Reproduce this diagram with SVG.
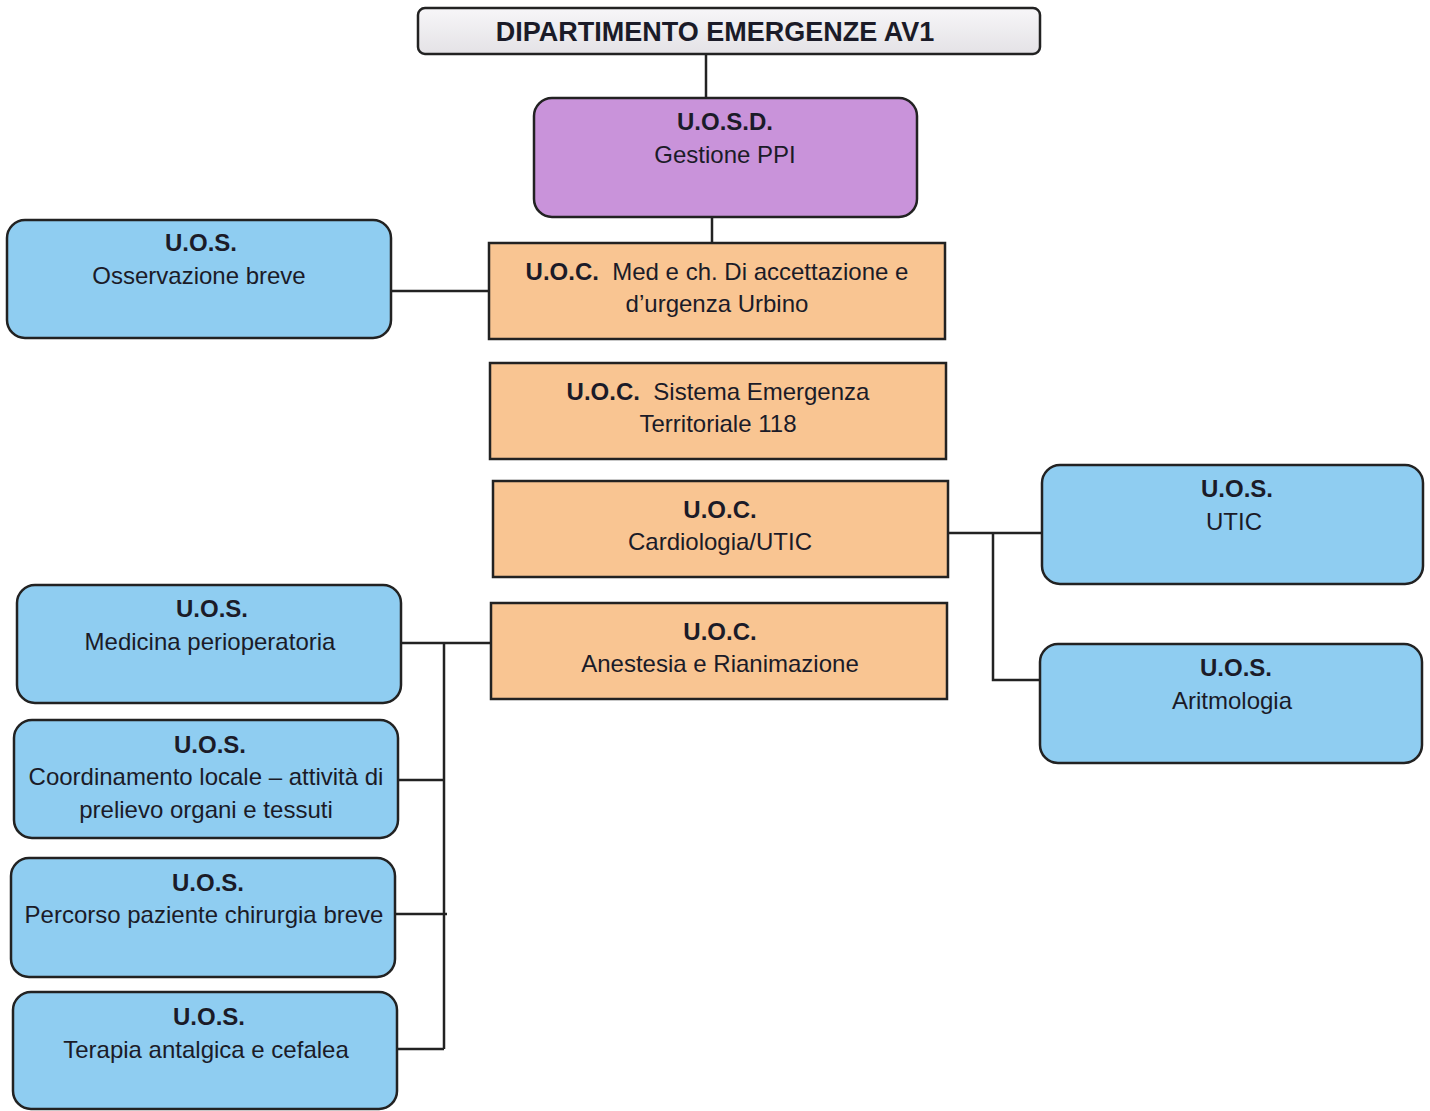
<svg xmlns="http://www.w3.org/2000/svg" width="1430" height="1111" viewBox="0 0 1430 1111">
<defs>
<linearGradient id="gTitle" x1="0" y1="0" x2="0" y2="1"><stop offset="0" stop-color="#f7f6f8"/><stop offset="1" stop-color="#e4e2e6"/></linearGradient>
</defs>
<style>
.box{stroke:#222;stroke-width:2.5}
.uos{fill:#8fcdf1}
.uoc{fill:#f9c592}
.uosd{fill:#c993da}
.t{font-family:"Liberation Sans",Arial,sans-serif;font-size:24px;fill:#1b1b28;text-anchor:middle;white-space:pre}
.b{font-weight:bold}
.ln{stroke:#222;stroke-width:2.5;fill:none}
</style>
<rect width="1430" height="1111" fill="#fff"/>
<g id="connectors">
<path class="ln" d="M706 54V98"/>
<path class="ln" d="M712 217V243"/>
<path class="ln" d="M391 291H489"/>
<path class="ln" d="M948 533H1043M993 533V680H1040"/>
<path class="ln" d="M401 643H491M444 643V1049M398 780H444M395 914H447M397 1049H444"/>
</g>
<g id="n-dip">
<rect class="box" x="418" y="8" width="622" height="46" rx="7" fill="url(#gTitle)"/>
<text class="t b" x="715" y="41" style="font-size:27px">DIPARTIMENTO EMERGENZE AV1</text>
</g>
<g id="n-uosd">
<rect class="box uosd" x="534" y="98" width="383" height="119" rx="18"/>
<text class="t b" x="725" y="130">U.O.S.D.</text>
<text class="t" x="725" y="163">Gestione PPI</text>
</g>
<g id="n-oss">
<rect class="box uos" x="7" y="220" width="384" height="118" rx="18"/>
<text class="t b" x="201" y="251">U.O.S.</text>
<text class="t" x="199" y="284">Osservazione breve</text>
</g>
<g id="n-med">
<rect class="box uoc" x="489" y="243" width="456" height="96"/>
<text class="t" x="717" y="280"><tspan class="b">U.O.C.</tspan>  Med e ch. Di accettazione e</text>
<text class="t" x="717" y="312">d’urgenza Urbino</text>
</g>
<g id="n-118">
<rect class="box uoc" x="490" y="363" width="456" height="96"/>
<text class="t" x="718" y="400"><tspan class="b">U.O.C.</tspan>  Sistema Emergenza</text>
<text class="t" x="718" y="432">Territoriale 118</text>
</g>
<g id="n-card">
<rect class="box uoc" x="493" y="481" width="455" height="96"/>
<text class="t b" x="720" y="518">U.O.C.</text>
<text class="t" x="720" y="550">Cardiologia/UTIC</text>
</g>
<g id="n-anest">
<rect class="box uoc" x="491" y="603" width="456" height="96"/>
<text class="t b" x="720" y="640">U.O.C.</text>
<text class="t" x="720" y="672">Anestesia e Rianimazione</text>
</g>
<g id="n-utic">
<rect class="box uos" x="1042" y="465" width="381" height="119" rx="18"/>
<text class="t b" x="1237" y="497">U.O.S.</text>
<text class="t" x="1234" y="530">UTIC</text>
</g>
<g id="n-arit">
<rect class="box uos" x="1040" y="644" width="382" height="119" rx="18"/>
<text class="t b" x="1236" y="676">U.O.S.</text>
<text class="t" x="1232" y="709">Aritmologia</text>
</g>
<g id="n-periop">
<rect class="box uos" x="17" y="585" width="384" height="118" rx="18"/>
<text class="t b" x="212" y="617">U.O.S.</text>
<text class="t" x="210" y="650">Medicina perioperatoria</text>
</g>
<g id="n-coord">
<rect class="box uos" x="14" y="720" width="384" height="118" rx="18"/>
<text class="t b" x="210" y="753">U.O.S.</text>
<text class="t" x="206" y="785">Coordinamento locale – attività di</text>
<text class="t" x="206" y="818">prelievo organi e tessuti</text>
</g>
<g id="n-perc">
<rect class="box uos" x="11" y="858" width="384" height="119" rx="18"/>
<text class="t b" x="208" y="891">U.O.S.</text>
<text class="t" x="204" y="923">Percorso paziente chirurgia breve</text>
</g>
<g id="n-terap">
<rect class="box uos" x="13" y="992" width="384" height="117" rx="18"/>
<text class="t b" x="209" y="1025">U.O.S.</text>
<text class="t" x="206" y="1058">Terapia antalgica e cefalea</text>
</g>
</svg>
